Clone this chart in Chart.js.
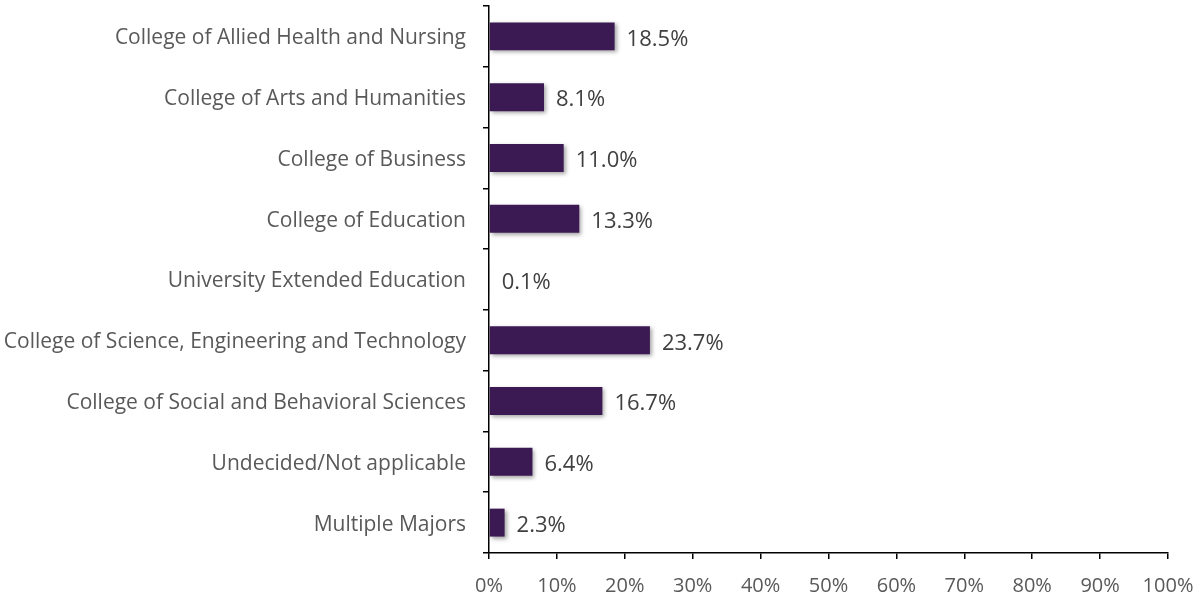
<!DOCTYPE html>
<html>
<head>
<meta charset="utf-8">
<script src="https://cdn.jsdelivr.net/npm/chart.js@4"></script>
<style>
  html, body { margin: 0; padding: 0; background: #ffffff; }
  #wrap { width: 1204px; height: 601px; position: relative; }
</style>
</head>
<body>
<div id="wrap"><canvas id="chart"></canvas></div>
<script>
const categories = [
  "College of Allied Health and Nursing",
  "College of Arts and Humanities",
  "College of Business",
  "College of Education",
  "University Extended Education",
  "College of Science, Engineering and Technology",
  "College of Social and Behavioral Sciences",
  "Undecided/Not applicable",
  "Multiple Majors",
];
const shares = [18.5, 8.1, 11.0, 13.3, 0.1, 23.7, 16.7, 6.4, 2.3];
const xTicks = [0, 10, 20, 30, 40, 50, 60, 70, 80, 90, 100];

const barColor = "#3b1a53";
const textGray = "#595959";
const fontFamily = "'Open Sans', sans-serif";

// soft shadow under the bars, like the office chart
const barShadow = {
  id: "barShadow",
  beforeDatasetDraw(chart) {
    const ctx = chart.ctx;
    ctx.save();
    ctx.shadowColor = "rgba(0, 0, 0, 0.35)";
    ctx.shadowBlur = 4;
    ctx.shadowOffsetX = 2;
    ctx.shadowOffsetY = 2;
  },
  afterDatasetDraw(chart) {
    chart.ctx.restore();
  },
};

// value labels at the bar ends
const valueLabels = {
  id: "valueLabels",
  afterDatasetsDraw(chart) {
    const ctx = chart.ctx;
    const meta = chart.getDatasetMeta(0);
    ctx.save();
    ctx.font = "22px " + fontFamily;
    ctx.fillStyle = "#404040";
    ctx.textAlign = "left";
    ctx.textBaseline = "middle";
    meta.data.forEach((bar, i) => {
      ctx.fillText(shares[i].toFixed(1) + "%", bar.x + 12, bar.y + 3);
    });
    ctx.restore();
  },
};

new Chart(document.getElementById("chart"), {
  type: "bar",
  data: {
    labels: categories,
    datasets: [
      {
        data: shares,
        backgroundColor: barColor,
        borderWidth: 0,
        categoryPercentage: 1,
        barPercentage: 0.46,
      },
    ],
  },
  options: {
    indexAxis: "y",
    responsive: true,
    maintainAspectRatio: false,
    animation: false,
    layout: { padding: { top: 6, right: 36, left: 0, bottom: 0 } },
    plugins: {
      legend: { display: false },
      tooltip: { enabled: false },
    },
    scales: {
      x: {
        min: 0,
        max: 100,
        afterBuildTicks(scale) {
          scale.ticks = xTicks.map((v) => ({ value: v }));
        },
        afterFit(scale) {
          scale.height = 48;
          scale.paddingLeft = 0;
          scale.paddingRight = 0;
        },
        border: { display: true, color: "#000000", width: 1.5 },
        grid: {
          drawOnChartArea: false,
          drawTicks: true,
          tickLength: 6,
          color: "#000000",
          lineWidth: 1.5,
        },
        ticks: {
          color: textGray,
          padding: 15,
          font: { family: fontFamily, size: 20 },
          callback: (v) => v + "%",
        },
      },
      y: {
        afterFit(scale) {
          scale.width = 489;
          scale.paddingTop = 0;
          scale.paddingBottom = 0;
        },
        border: { display: true, color: "#000000", width: 1.5 },
        grid: {
          offset: true,
          drawOnChartArea: false,
          drawTicks: true,
          tickLength: 6,
          color: "#000000",
          lineWidth: 1.5,
        },
        ticks: {
          color: textGray,
          padding: 17,
          labelOffset: 2,
          font: { family: fontFamily, size: 21 },
        },
      },
    },
  },
  plugins: [barShadow, valueLabels],
});
</script>
</body>
</html>
